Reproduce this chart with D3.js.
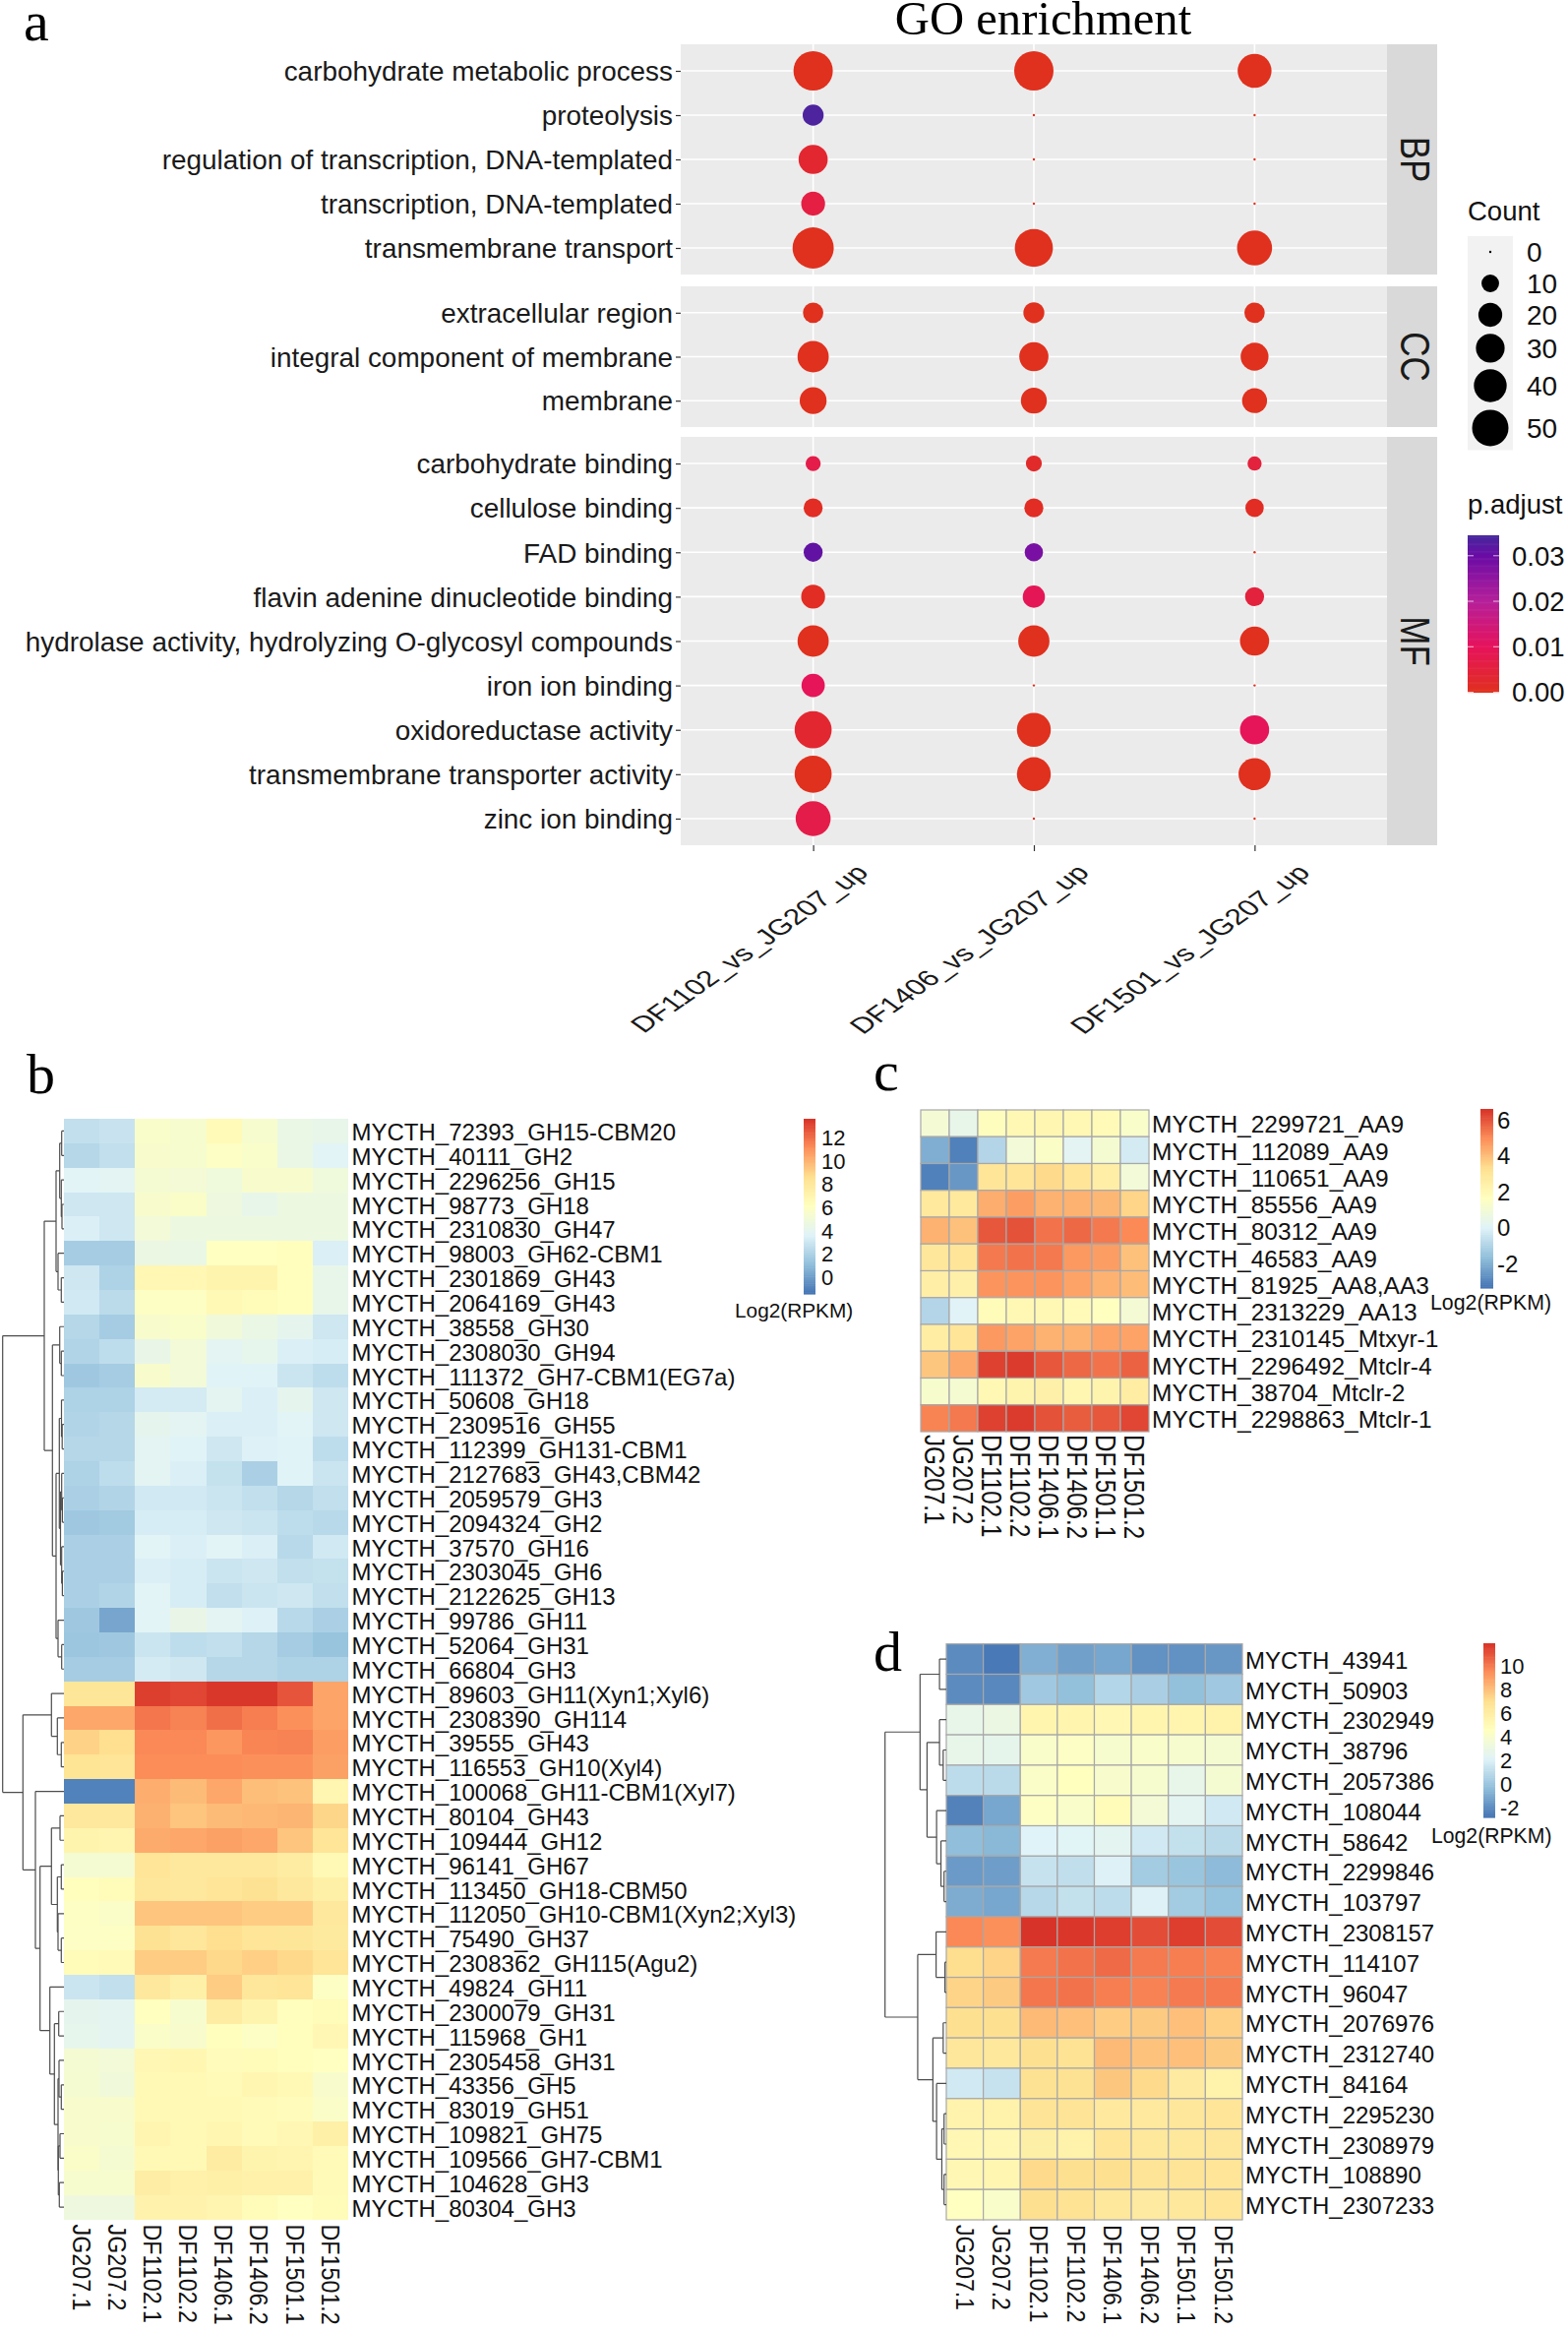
<!DOCTYPE html>
<html><head><meta charset="utf-8">
<script src="https://cdn.jsdelivr.net/npm/d3@7"></script>
<style>html,body{margin:0;padding:0;background:#fff}svg{display:block}text{font-family:"Liberation Sans",Arial,sans-serif;fill:#111}</style>
</head><body><svg id="c" width="1594" height="2370"></svg>
<script>
// ---------- Panel a data ----------
const goGroups = ["DF1102_vs_JG207_up","DF1406_vs_JG207_up","DF1501_vs_JG207_up"];
const bpTerms = ["carbohydrate metabolic process","proteolysis","regulation of transcription, DNA-templated","transcription, DNA-templated","transmembrane transport"];
const ccTerms = ["extracellular region","integral component of membrane","membrane"];
const mfTerms = ["carbohydrate binding","cellulose binding","FAD binding","flavin adenine dinucleotide binding","hydrolase activity, hydrolyzing O-glycosyl compounds","iron ion binding","oxidoreductase activity","transmembrane transporter activity","zinc ion binding"];
const bpCount = [[59,59,43],[15,0,0],[31,0,0],[20,0,0],[65,55,46]];
const ccCount = [[14,15,14],[36,31,28],[26,24,22]];
const mfCount = [[7,8,6],[12,12,11],[12,11,0],[20,17,12],[36,36,31],[19,0,0],[52,43,31],[52,43,38],[46,0,0]];
const bpP = [[0,0,0],[.0335,0,0],[.003,0,0],[.006,0,0],[0,0,0]];
const ccP = [[0,0,0],[0,0,0],[0,0,0]];
const mfP = [[.007,.002,.005],[.001,.001,.001],[.031,.028,0],[.001,.009,.005],[0,0,0],[.0095,0,0],[.003,0,.0095],[0,0,0],[.007,0,0]];
const sizeTicks = [0,10,20,30,40,50];
const pTicks = [0,.01,.02,.03];
const pStops = [0,.01,.02,.03,.0345];
const pColors = ["#e0301e","#e6135c","#b5209a","#6a0ca5","#46299c"];

// ---------- Heatmap data ----------
const samples = ["JG207.1","JG207.2","DF1102.1","DF1102.2","DF1406.1","DF1406.2","DF1501.1","DF1501.2"];
const rdylbu = ["#4575B4","#91BFDB","#E0F3F8","#FFFFBF","#FEE090","#FC8D59","#D73027"];

const bLabels = ["MYCTH_72393_GH15-CBM20","MYCTH_40111_GH2","MYCTH_2296256_GH15","MYCTH_98773_GH18","MYCTH_2310830_GH47","MYCTH_98003_GH62-CBM1","MYCTH_2301869_GH43","MYCTH_2064169_GH43","MYCTH_38558_GH30","MYCTH_2308030_GH94","MYCTH_111372_GH7-CBM1(EG7a)","MYCTH_50608_GH18","MYCTH_2309516_GH55","MYCTH_112399_GH131-CBM1","MYCTH_2127683_GH43,CBM42","MYCTH_2059579_GH3","MYCTH_2094324_GH2","MYCTH_37570_GH16","MYCTH_2303045_GH6","MYCTH_2122625_GH13","MYCTH_99786_GH11","MYCTH_52064_GH31","MYCTH_66804_GH3","MYCTH_89603_GH11(Xyn1;Xyl6)","MYCTH_2308390_GH114","MYCTH_39555_GH43","MYCTH_116553_GH10(Xyl4)","MYCTH_100068_GH11-CBM1(Xyl7)","MYCTH_80104_GH43","MYCTH_109444_GH12","MYCTH_96141_GH67","MYCTH_113450_GH18-CBM50","MYCTH_112050_GH10-CBM1(Xyn2;Xyl3)","MYCTH_75490_GH37","MYCTH_2308362_GH115(Agu2)","MYCTH_49824_GH11","MYCTH_2300079_GH31","MYCTH_115968_GH1","MYCTH_2305458_GH31","MYCTH_43356_GH5","MYCTH_83019_GH51","MYCTH_109821_GH75","MYCTH_109566_GH7-CBM1","MYCTH_104628_GH3","MYCTH_80304_GH3"];
const bValues = [
[2.6,2.8,5.6,5.4,6.5,5.4,4.4,4.2],[2.2,2.6,5.5,5.4,5.8,5.6,4.4,3.7],[3.7,3.8,5.2,5.1,4.8,5.5,5.5,4.8],[3.0,3.0,5.5,5.7,4.7,4.2,4.6,4.6],[3.4,3.0,5.0,4.6,4.6,4.6,4.6,4.6],
[1.7,1.7,4.5,4.4,6.0,6.0,6.2,3.4],[3.0,2.0,6.7,6.7,7.0,7.0,6.2,4.2],[3.1,2.4,5.9,5.9,6.6,6.4,6.2,4.2],[2.2,1.7,5.5,5.6,4.9,4.4,4.0,3.0],[2.1,2.5,4.3,5.0,3.8,4.1,3.4,3.3],
[1.5,1.7,5.5,5.0,3.6,3.6,2.9,2.5],[2.0,2.0,3.2,3.2,3.9,3.4,4.0,3.0],[2.1,2.2,4.0,3.8,3.4,3.4,3.7,3.0],[2.2,2.2,3.8,3.6,3.0,3.5,3.6,2.5],[2.0,2.5,3.8,3.4,2.7,1.9,3.6,2.9],
[1.9,2.1,3.1,3.1,2.9,2.6,2.2,2.6],[1.5,1.6,3.3,3.3,3.0,2.9,2.5,2.3],[1.9,1.9,3.7,3.4,3.7,3.4,2.3,3.1],[1.9,1.9,3.4,3.3,2.9,3.0,2.6,2.7],[1.9,2.1,3.7,3.3,2.6,2.9,3.0,2.6],
[1.5,0.2,3.7,4.3,3.8,3.5,2.3,1.9],[1.4,1.5,2.9,2.5,2.6,2.2,1.7,1.3],[1.7,1.7,3.2,3.0,2.2,2.2,2.0,2.0],
[8.1,8.1,13.2,13.0,13.4,13.4,12.6,10.4],[10.3,10.3,11.7,11.4,11.9,11.5,11.0,10.4],[9.0,8.6,11.2,11.2,10.8,11.3,11.4,10.6],[8.3,8.2,11.1,11.1,11.1,11.0,11.0,10.5],[-1.0,-1.0,10.1,9.7,10.3,9.6,9.5,6.8],
[7.9,7.9,10.0,9.4,9.7,9.8,9.9,8.9],[7.0,6.9,10.2,10.3,10.5,10.3,9.4,8.2],[5.2,5.2,8.2,7.9,7.9,7.9,7.6,6.6],[6.2,6.4,8.0,7.9,8.2,8.4,7.9,7.3],[5.9,5.7,9.4,9.4,9.4,9.2,9.2,7.9],
[5.8,5.9,8.4,8.0,8.6,8.2,8.1,7.8],[6.4,6.5,9.2,9.2,8.8,9.1,8.8,8.2],[2.9,2.6,7.9,7.3,9.2,8.0,8.2,5.9],[4.0,3.9,6.1,5.4,7.6,7.0,6.2,6.4],[4.1,3.9,5.7,5.5,6.2,5.8,6.2,6.7],
[5.2,5.0,6.7,6.8,6.3,6.4,6.2,6.0],[5.3,4.9,6.6,6.6,6.5,6.8,6.6,5.5],[5.5,5.5,6.6,6.6,6.6,6.5,6.3,5.7],[5.5,5.4,6.9,6.6,6.8,6.5,6.7,7.3],[5.7,5.3,6.6,6.6,7.6,7.0,6.9,6.5],
[5.4,5.4,7.5,7.2,7.3,7.2,7.2,6.5],[4.7,4.7,7.1,7.1,6.9,6.4,6.0,6.4]];
const bTicks = [0,2,4,6,8,10,12];
// dendrogram trees: [mergeHeight, childA, childB]; a plain number is a row index
const bTree = [62.3,
 [20,
  [8,
   [4.3,[2.3,0,1],[2.7,2,[2,3,4]]],
   [6,5,[2.7,6,7]]],
  [11.7,
   [4.3,8,[2.7,9,10]],
   [8,
    [4.7,[2.5,11,[1.8,12,13]],[3.5,[2.3,14,[1.6,15,16]],[2.3,17,[1.6,18,19]]]],
    [6,20,[2.3,21,22]]]]],
 [41.7,
  [12.7,23,[6.7,24,[2.7,25,26]]],
  [29,27,
   [24.3,
    [12.7,[4,28,29],[6.7,[2.7,30,31],[6,32,[2.7,33,34]]]],
    [14.3,35,
     [9.7,[5.3,36,37],
      [6,[5,38,[2.7,39,40]],[5.7,[4,41,42],[4.7,43,44]]]]]]]]];

const cLabels = ["MYCTH_2299721_AA9","MYCTH_112089_AA9","MYCTH_110651_AA9","MYCTH_85556_AA9","MYCTH_80312_AA9","MYCTH_46583_AA9","MYCTH_81925_AA8,AA3","MYCTH_2313229_AA13","MYCTH_2310145_Mtxyr-1","MYCTH_2296492_Mtclr-4","MYCTH_38704_Mtclr-2","MYCTH_2298863_Mtclr-1"];
const cValues = [[1.0,0.4,1.7,2.0,2.1,2.0,1.9,1.3],[-2.1,-3.1,-1.0,0.9,1.4,0.1,1.1,-0.3],[-3.1,-2.6,3.0,3.0,3.4,3.0,2.5,0.9],[2.8,2.8,4.3,4.6,4.2,4.2,4.1,3.5],[4.2,3.9,5.9,6.0,5.4,5.6,5.3,5.0],[2.9,3.0,5.3,5.4,5.3,4.7,4.6,3.9],[2.5,2.4,4.8,4.8,4.8,4.5,4.2,4.0],[-1.0,0.0,1.8,2.0,2.0,1.9,1.6,1.0],[2.6,3.0,4.7,4.5,4.2,4.2,4.5,4.5],[3.8,4.4,6.3,6.4,5.9,5.6,5.4,5.7],[1.2,1.1,2.0,2.2,2.4,2.1,2.2,2.6],[5.1,5.3,6.3,6.4,6.0,5.8,5.9,6.2]];
const cTicks = [-2,0,2,4,6];

const dLabels = ["MYCTH_43941","MYCTH_50903","MYCTH_2302949","MYCTH_38796","MYCTH_2057386","MYCTH_108044","MYCTH_58642","MYCTH_2299846","MYCTH_103797","MYCTH_2308157","MYCTH_114107","MYCTH_96047","MYCTH_2076976","MYCTH_2312740","MYCTH_84164","MYCTH_2295230","MYCTH_2308979","MYCTH_108890","MYCTH_2307233"];
const dValues = [[-2.1,-2.7,-0.9,-1.4,-1.2,-1.9,-1.9,-1.7],[-2.1,-2.2,0.1,-0.3,0.7,0.4,-0.3,0.1],[2.7,3.0,5.4,5.4,5.2,5.4,5.4,5.6],[2.7,2.6,4.1,4.3,3.9,4.1,3.9,3.8],[1.0,0.9,4.2,4.6,4.0,3.9,2.7,3.8],[-2.4,-1.2,4.4,4.1,4.9,3.6,2.4,1.6],[-0.4,-0.6,2.1,2.2,2.4,1.6,1.2,0.9],[-1.6,-1.5,1.3,1.1,2.0,0.2,-0.1,-0.5],[-1.0,-1.2,0.8,1.2,1.0,2.0,0.2,-0.2],[9.6,9.4,11.9,11.8,11.6,11.2,11.6,11.2],[7.1,7.4,10.0,10.2,10.4,10.0,9.9,9.8],[7.4,7.7,10.1,10.2,9.9,9.8,10.0,10.0],[7.0,7.0,8.2,8.0,7.6,7.7,8.0,7.5],[6.5,6.4,7.0,6.8,8.2,7.9,8.0,7.7],[1.6,1.3,6.9,6.9,7.8,7.2,6.2,5.6],[5.5,5.6,6.7,6.7,6.3,6.3,6.5,6.6],[5.2,5.2,5.8,5.6,6.6,6.4,6.4,6.5],[5.2,5.3,7.2,7.0,7.0,6.7,6.7,6.6],[4.5,4.1,7.0,6.8,6.4,6.2,6.4,6.6]];
const dTicks = [-2,0,2,4,6,8,10];
const dTree = [63,
 [27,
  [7,0,1],
  [19.8,
   [7,2,[3.2,3,4]],
   [10,5,[5.5,6,[2.3,7,8]]]]],
 [29.4,
  [10.5,9,[1.4,10,11]],
  [13.8,
   [3.2,12,13],
   [10,14,[4.6,[2.3,15,16],[2.3,17,18]]]]]];

// ---------- Drawing ----------
const svg = d3.select("#c");
const SERIF = '"Liberation Serif","Times New Roman",serif';

function panelLetter(t,x,y){
  svg.append("text").attr("x",x).attr("y",y).text(t).style("font-family",SERIF).style("font-size","58px").style("fill","#000");
}
panelLetter("a",24,41); panelLetter("b",27,1111); panelLetter("c",888,1108); panelLetter("d",888,1698);

svg.append("text").attr("x",1060.5).attr("y",35).attr("text-anchor","middle").text("GO enrichment")
  .style("font-family",SERIF).style("font-size","48.7px").style("fill","#000");

// Panel a
const xG = d3.scalePoint().domain(goGroups).range([692,1410]).padding(0.6);
const rScale = d3.scaleSqrt().domain([0,50]).range([1.2,18.5]);
const pColor = d3.scaleLinear().domain(pStops).range(pColors);

function facet(name,terms,counts,ps,top,bottom){
  const g = svg.append("g");
  const y = d3.scalePoint().domain(terms).range([top,bottom]).padding(0.6);
  g.append("rect").attr("x",692).attr("y",top).attr("width",718).attr("height",bottom-top).attr("fill","#EBEBEB");
  g.append("rect").attr("x",1410).attr("y",top).attr("width",51).attr("height",bottom-top).attr("fill","#D9D9D9");
  g.selectAll("line.h").data(terms).join("line").attr("x1",692).attr("x2",1410).attr("y1",d=>y(d)).attr("y2",d=>y(d)).attr("stroke","#fff").attr("stroke-width",1.6);
  g.selectAll("line.v").data(goGroups).join("line").attr("x1",d=>xG(d)).attr("x2",d=>xG(d)).attr("y1",top).attr("y2",bottom).attr("stroke","#fff").attr("stroke-width",1.6);
  const axis = d3.axisLeft(y).tickSize(5).tickPadding(3);
  const ax = g.append("g").attr("transform","translate(692,0)").call(axis);
  ax.select(".domain").remove();
  ax.selectAll("line").attr("stroke","#333").attr("stroke-width",1.2);
  ax.selectAll("text").attr("dy","0.35em").style("font-size","27.9px").style("fill","#1a1a1a").style("font-family",'"Liberation Sans",Arial,sans-serif');
  const dots = terms.flatMap((t,i)=>goGroups.map((k,j)=>({t,k,n:counts[i][j],p:ps[i][j]})));
  g.selectAll("circle").data(dots).join("circle").attr("cx",d=>xG(d.k)).attr("cy",d=>y(d.t)).attr("r",d=>rScale(d.n)).attr("fill",d=>pColor(d.p));
  g.append("text").text(name).attr("transform",`translate(1424,${(top+bottom)/2}) rotate(90) scale(1,1.2)`)
    .attr("text-anchor","middle").style("font-size","35px").style("fill","#1a1a1a");
}
facet("BP",bpTerms,bpCount,bpP,45,279);
facet("CC",ccTerms,ccCount,ccP,291,434);
facet("MF",mfTerms,mfCount,mfP,444,859);

// x axis of a
const xAxis = svg.append("g").attr("transform","translate(0,859)").call(d3.axisBottom(xG).tickSize(6).tickFormat(""));
xAxis.select(".domain").remove();
xAxis.selectAll("line").attr("stroke","#333").attr("stroke-width",1.2);
svg.selectAll("text.xg").data(goGroups).join("text").attr("class","xg").text(d=>d)
  .attr("text-anchor","end")
  .attr("transform",d=>`translate(${xG(d)+42},877) scale(1.3,0.92) rotate(-45)`)
  .attr("dy","0.7em").style("font-size","24.5px").style("fill","#1a1a1a");

// Count legend
svg.append("text").attr("x",1492).attr("y",224).text("Count").style("font-size","27.5px");
let ky = 240;
const keys = sizeTicks.map(v=>{const h=Math.max(32,2*rScale(v)*1.22);const o={v,h,y:ky+h/2};ky+=h;return o;});
svg.append("rect").attr("x",1492).attr("y",240).attr("width",46).attr("height",ky-240).attr("fill","#F2F2F2");
svg.selectAll("circle.key").data(keys).join("circle").attr("class","key").attr("cx",1515).attr("cy",d=>d.y).attr("r",d=>rScale(d.v)).attr("fill","#000");
svg.selectAll("text.key").data(keys).join("text").attr("class","key").attr("x",1552).attr("y",d=>d.y).attr("dy","0.36em").text(d=>d.v).style("font-size","28px");

// p.adjust legend
svg.append("text").attr("x",1492).attr("y",522).text("p.adjust").style("font-size","27.5px");
const pLegend = d3.scaleLinear().domain([0,.0345]).range([703.5,544]);
const pSteps = d3.range(0,.0345,.00025);
svg.selectAll("rect.pl").data(pSteps).join("rect").attr("class","pl").attr("x",1492).attr("width",32)
  .attr("y",d=>pLegend(d+.00025)).attr("height",d=>pLegend(d)-pLegend(d+.00025)+.6).attr("fill",d=>pColor(d));
pTicks.forEach(t=>{
  [[1492,1498],[1518,1524]].forEach(([a,b])=>svg.append("line").attr("x1",a).attr("x2",b).attr("y1",pLegend(t)).attr("y2",pLegend(t)).attr("stroke","#fff").attr("stroke-opacity",.7));
});
svg.selectAll("text.pl").data(pTicks).join("text").attr("class","pl").attr("x",1537).attr("y",d=>pLegend(d)).attr("dy","0.36em")
  .text(d=>d3.format(".2f")(d)).style("font-size","27.5px");

// Heatmaps
function heatmap(o){
  const x = d3.scaleBand().domain(samples).range(o.xr);
  const y = d3.scaleBand().domain(o.labels).range(o.yr);
  const [lo,hi] = o.domain;
  const color = d3.scaleLinear().domain(d3.range(7).map(i=>lo+(hi-lo)*i/6)).range(rdylbu);
  const cells = o.labels.flatMap((l,i)=>samples.map((s,j)=>({l,s,v:o.values[i][j]})));
  const g = svg.append("g");
  g.selectAll("rect").data(cells).join("rect").attr("x",d=>x(d.s)).attr("y",d=>y(d.l)).attr("width",x.bandwidth()).attr("height",y.bandwidth())
    .attr("fill",d=>color(d.v)).attr("stroke",o.border||"none").attr("stroke-width",o.border?1.2:0).attr("shape-rendering",o.border?"auto":"crispEdges");
  g.selectAll("text.row").data(o.labels).join("text").attr("class","row").attr("x",o.xr[1]+o.rowGap).attr("y",d=>y(d)+y.bandwidth()/2+o.rowShift).attr("dy","0.36em")
    .text(d=>d).style("font-size",o.rowFont+"px").style("fill","#111");
  g.selectAll("text.col").data(samples).join("text").attr("class","col").text(d=>d)
    .attr("transform",d=>`translate(${x(d)+x.bandwidth()/2},${o.yr[1]+o.colGap}) rotate(90) scale(${o.colScale[0]},${o.colScale[1]})`)
    .attr("dy","0.36em").style("font-size",o.colFont+"px").style("fill","#111");
  // legend
  const ly = d3.scaleLinear().domain([lo,hi]).range([o.leg.y1,o.leg.y0]);
  const steps = d3.range(0,100).map(i=>lo+(hi-lo)*i/100);
  const st=(hi-lo)/100;
  g.selectAll("rect.leg").data(steps).join("rect").attr("class","leg").attr("x",o.leg.x).attr("width",o.leg.w)
    .attr("y",d=>ly(d+st)).attr("height",d=>ly(d)-ly(d+st)+.6).attr("fill",d=>color(d));
  g.selectAll("text.leg").data(o.ticks).join("text").attr("class","leg").attr("x",o.leg.x+o.leg.w+o.leg.pad).attr("y",d=>ly(d)).attr("dy","0.36em")
    .text(d=>d).style("font-size",o.leg.font+"px");
  g.append("text").attr("x",o.leg.tx).attr("y",o.leg.ty).attr("dy","0.36em").text("Log2(RPKM)").style("font-size",o.leg.tfont+"px");
  // dendrogram
  if(o.tree){
    const root = d3.hierarchy(o.tree,d=>Array.isArray(d)?d.slice(1):null);
    const hx = d3.scaleLinear().domain([0,o.tree[0]]).range([o.xr[0],o.dendroLeft]);
    root.eachAfter(n=>{
      if(n.children){
        n.py=d3.mean(n.children,c=>c.py); n.px=hx(n.data[0]);
      } else { n.py=y(o.labels[n.data])+y.bandwidth()/2; n.px=hx(0); }
    });
    const segs=[];
    root.each(n=>{ if(n.children){
      const p=d3.path(); n.children.forEach(c=>{p.moveTo(c.px,c.py);p.lineTo(n.px,c.py);});
      p.moveTo(n.px,n.children[0].py);p.lineTo(n.px,n.children[n.children.length-1].py);
      segs.push(p.toString());
    }});
    g.selectAll("path").data(segs).join("path").attr("d",d=>d).attr("fill","none").attr("stroke","#4d4d4d").attr("stroke-width",1.2);
  }
}
heatmap({labels:bLabels,values:bValues,xr:[65,354],yr:[1137,2255.5],domain:[-1.44,13.6],ticks:bTicks,tree:bTree,dendroLeft:2.7,
  rowGap:3.5,rowShift:1,rowFont:24,colFont:23.3,colGap:5,colScale:[1,1.1],
  leg:{x:817,y0:1137,y1:1315,w:12,pad:6,font:22,tx:747,ty:1332,tfont:20.8}});
heatmap({labels:cLabels,values:cValues,xr:[936,1168],yr:[1128,1455],domain:[-3.37,6.6],ticks:cTicks,border:"#a8a8a8",
  rowGap:3,rowShift:1,rowFont:24.5,colFont:24.2,colGap:3,colScale:[1,1.2],
  leg:{x:1505,y0:1127,y1:1309,w:13,pad:4,font:24,tx:1454,ty:1323,tfont:21.3}});
heatmap({labels:dLabels,values:dValues,xr:[962,1263],yr:[1670.7,2256],domain:[-2.84,11.97],ticks:dTicks,border:"#a8a8a8",tree:dTree,dendroLeft:899.7,
  rowGap:3,rowShift:1,rowFont:24,colFont:23,colGap:5,colScale:[1,1.1],
  leg:{x:1508,y0:1670,y1:1847,w:12,pad:5,font:22,tx:1455,ty:1865,tfont:21.2}});
</script></body></html>
